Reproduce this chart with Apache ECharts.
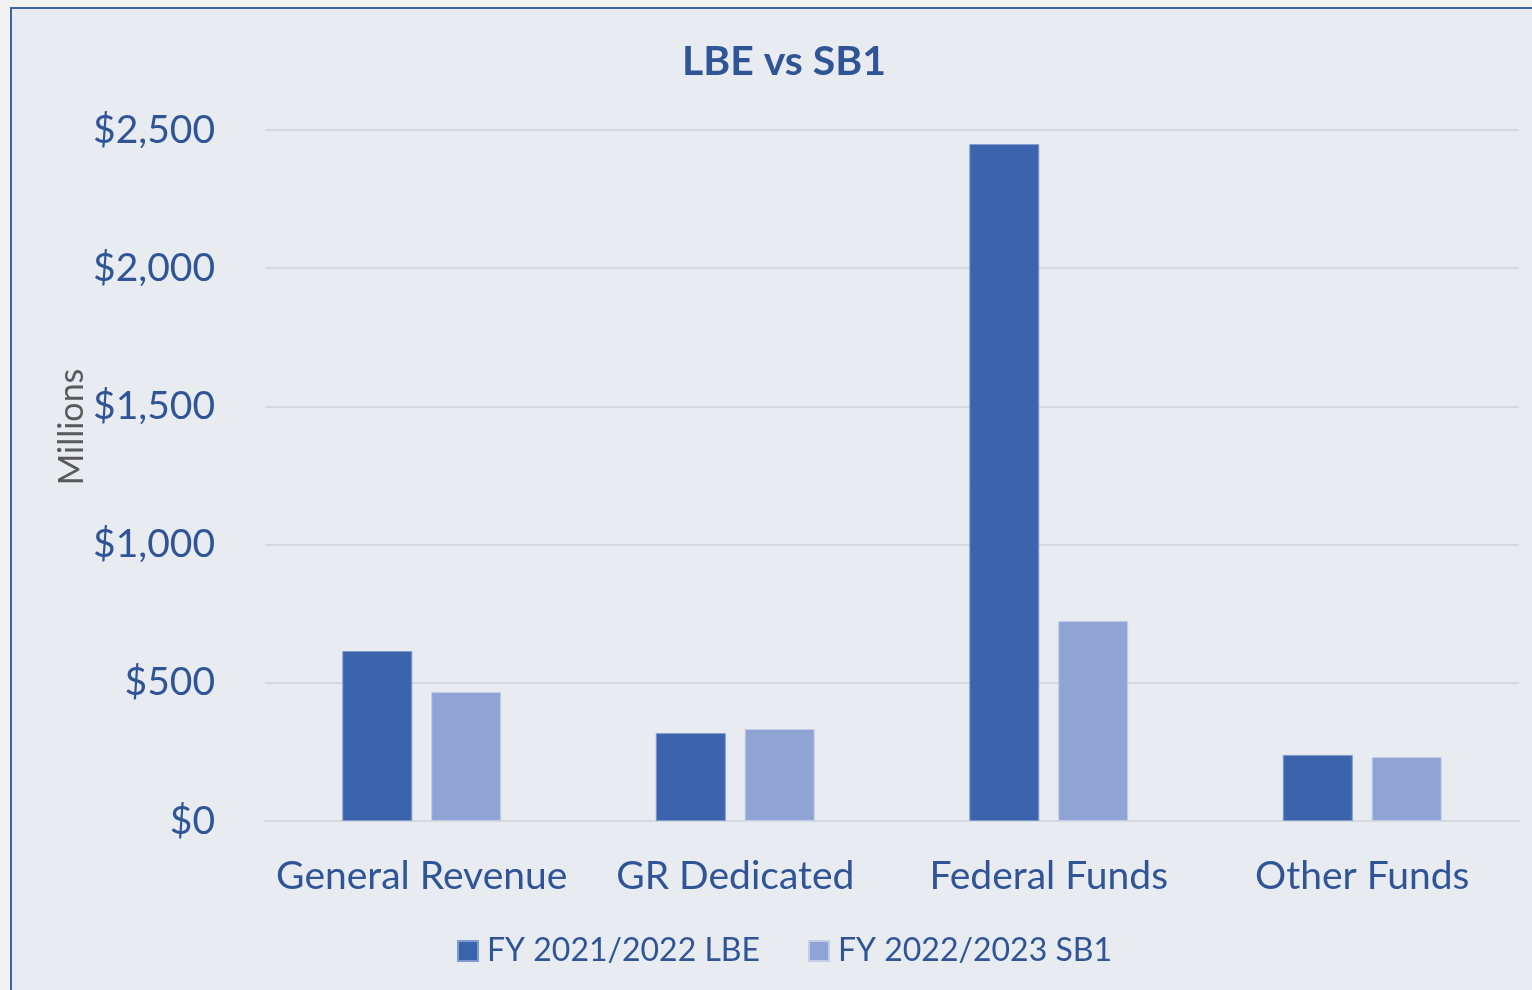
<!DOCTYPE html>
<html>
<head>
<meta charset="utf-8">
<script src="https://cdn.jsdelivr.net/npm/echarts@6/dist/echarts.min.js"></script>
<style>
  html, body { margin: 0; padding: 0; background: #f2f2f2; }
  #chart { width: 1532px; height: 990px; }
</style>
</head>
<body>
<div id="chart"></div>
<script>
const categories = ['General Revenue', 'GR Dedicated', 'Federal Funds', 'Other Funds'];
const lbeValues = [615, 318, 2449, 239];
const sb1Values = [467, 333, 724, 232];
const seriesNames = ['FY 2021/2022 LBE', 'FY 2022/2023 SB1'];

const labelColor = '#2f5597';
const font = 'Lato, "Open Sans", sans-serif';

const chart = echarts.init(document.getElementById('chart'));

const option = {
  backgroundColor: '#f2f2f2',
  textStyle: { fontFamily: font },
  graphic: [
    {
      type: 'rect',
      z: -10,
      shape: { x: 11, y: 8, width: 1600, height: 1100 },
      style: { fill: '#e8ebf0', stroke: '#3b64ad', lineWidth: 2 }
    },
    {
      type: 'text',
      x: 72,
      y: 427,
      rotation: Math.PI / 2,
      style: {
        text: 'Millions',
        font: '34px ' + font,
        fill: '#595959',
        align: 'center',
        verticalAlign: 'middle'
      }
    }
  ],
  title: {
    text: 'LBE vs SB1',
    left: 779,
    top: 36,
    textAlign: 'center',
    textStyle: { color: labelColor, fontSize: 41, fontWeight: 'bold', fontFamily: font }
  },
  legend: {
    data: seriesNames,
    left: 457,
    top: 935,
    padding: 0,
    itemWidth: 20,
    itemHeight: 20,
    itemGap: 48,
    icon: 'rect',
    textStyle: { color: labelColor, fontSize: 32, fontFamily: font, padding: [0, 0, 0, 4] }
  },
  grid: { left: 265, right: 13, top: 130, bottom: 169 },
  xAxis: {
    type: 'category',
    data: categories,
    axisLine: { lineStyle: { color: '#d6d8dc', width: 2 } },
    axisTick: { show: false },
    axisLabel: { color: labelColor, fontSize: 39, margin: 36, interval: 0, fontFamily: font }
  },
  yAxis: {
    type: 'value',
    min: 0,
    max: 2500,
    interval: 500,
    axisLine: { show: false },
    axisTick: { show: false },
    splitLine: { lineStyle: { color: '#d6d8dc', width: 2 } },
    axisLabel: {
      color: labelColor,
      fontSize: 39,
      margin: 50,
      fontFamily: font,
      formatter: v => '$' + v.toLocaleString('en-US')
    }
  },
  series: [
    {
      name: seriesNames[0],
      type: 'bar',
      data: lbeValues,
      barWidth: 70,
      barGap: '27%',
      itemStyle: { color: '#3c64ac', borderColor: '#7f9ad0', borderWidth: 1 }
    },
    {
      name: seriesNames[1],
      type: 'bar',
      data: sb1Values,
      barWidth: 70,
      itemStyle: { color: '#8fa3d4', borderColor: '#c3cfe8', borderWidth: 1 }
    }
  ]
};

chart.setOption(option);
</script>
</body>
</html>
